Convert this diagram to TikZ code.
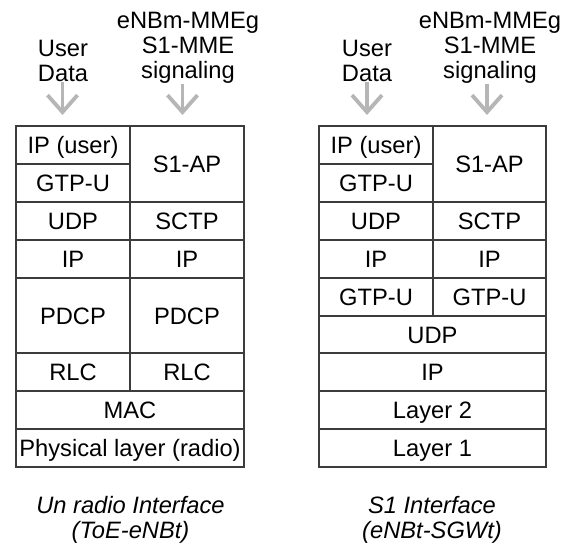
\documentclass[tikz,border=0pt]{standalone}
\usepackage{fontspec}
\setmainfont{Liberation Sans}
\usetikzlibrary{arrows.meta}
\definecolor{linec}{RGB}{60,60,60}
\definecolor{arrc}{RGB}{182,182,182}
\begin{document}
\begin{tikzpicture}[x=1bp,y=-1bp,
  cell/.style={draw=linec, line width=1.3bp, rectangle, inner sep=0pt,
    font=\fontsize{23.7bp}{25bp}\selectfont, text height=17bp, text depth=0bp},
  lab/.style={inner sep=0pt, anchor=north, align=center,
    font=\fontsize{23.7bp}{25bp}\selectfont},
  captxt/.style={inner sep=0pt, anchor=north, align=center,
    font=\fontsize{23.7bp}{24.5bp}\selectfont\itshape},
  arr/.style={draw=arrc, line width=3.8bp,
    -{Straight Barb[length=17bp, width=30bp]}}]
\useasboundingbox (0,0) rectangle (574,545);

% ---------- left stack ----------
\node[cell, minimum width=114bp, minimum height=38bp] (lipu) at (73,145) {IP (user)};
\node[cell, minimum width=114bp, minimum height=38bp] (lgtp) at (73,183) {GTP-U};
\node[cell, minimum width=114bp, minimum height=76bp] (ls1ap) at (187,164) {S1-AP};
\node[cell, minimum width=114bp, minimum height=38bp] (ludp) at (73,221) {UDP};
\node[cell, minimum width=114bp, minimum height=38bp] (lsctp) at (187,221) {SCTP};
\node[cell, minimum width=114bp, minimum height=38bp] (lip1) at (73,259) {IP};
\node[cell, minimum width=114bp, minimum height=38bp] (lip2) at (187,259) {IP};
\node[cell, minimum width=114bp, minimum height=75bp] (lpdcp1) at (73,315.5) {PDCP};
\node[cell, minimum width=114bp, minimum height=75bp] (lpdcp2) at (187,315.5) {PDCP};
\node[cell, minimum width=114bp, minimum height=38bp] (lrlc1) at (73,372) {RLC};
\node[cell, minimum width=114bp, minimum height=38bp] (lrlc2) at (187,372) {RLC};
\node[cell, minimum width=228bp, minimum height=38bp] (lmac) at (130,410) {MAC};
\node[cell, minimum width=228bp, minimum height=38bp] (lphy) at (130,448) {Physical layer (radio)};

% ---------- right stack ----------
\node[cell, minimum width=114bp, minimum height=38bp] (ripu) at (376,145) {IP (user)};
\node[cell, minimum width=114bp, minimum height=38bp] (rgtp) at (376,183) {GTP-U};
\node[cell, minimum width=113bp, minimum height=76bp] (rs1ap) at (489.5,164) {S1-AP};
\node[cell, minimum width=114bp, minimum height=38bp] (rudp) at (376,221) {UDP};
\node[cell, minimum width=113bp, minimum height=38bp] (rsctp) at (489.5,221) {SCTP};
\node[cell, minimum width=114bp, minimum height=38bp] (rip1) at (376,259) {IP};
\node[cell, minimum width=113bp, minimum height=38bp] (rip2) at (489.5,259) {IP};
\node[cell, minimum width=114bp, minimum height=38bp] (rgtp1) at (376,297) {GTP-U};
\node[cell, minimum width=113bp, minimum height=38bp] (rgtp2) at (489.5,297) {GTP-U};
\node[cell, minimum width=227bp, minimum height=37bp] (rudp2) at (432.5,334.5) {UDP};
\node[cell, minimum width=227bp, minimum height=38bp] (rip3) at (432.5,372) {IP};
\node[cell, minimum width=227bp, minimum height=38bp] (rl2) at (432.5,410) {Layer 2};
\node[cell, minimum width=227bp, minimum height=38bp] (rl1) at (432.5,448) {Layer 1};

% ---------- top labels ----------
\node[lab] (luser) at (63,39.5) {User\\Data};
\node[lab] (lsig) at (188,12) {eNBm-MMEg\\S1-MME\\signaling};
\node[lab] (ruser) at (367,39.5) {User\\Data};
\node[lab] (rsig) at (490,12) {eNBm-MMEg\\S1-MME\\signaling};

% ---------- arrows ----------
\coordinate (la1) at (62.5,115);
\coordinate (la2) at (182.5,115);
\coordinate (ra1) at (367,115);
\coordinate (ra2) at (487,115);
\draw[arr] (luser.south -| la1) ++(0,1) -- (la1);
\draw[arr] (lsig.south -| la2) -- (la2);
\draw[arr] (ruser.south -| ra1) ++(0,1) -- (ra1);
\draw[arr] (rsig.south -| ra2) -- (ra2);

% ---------- captions ----------
\node[captxt] (lcap) at (130.5,496.5) {Un radio Interface\\(ToE-eNBt)};
\node[captxt] (rcap) at (432,496.5) {S1 Interface\\(eNBt-SGWt)};
\end{tikzpicture}
\end{document}
